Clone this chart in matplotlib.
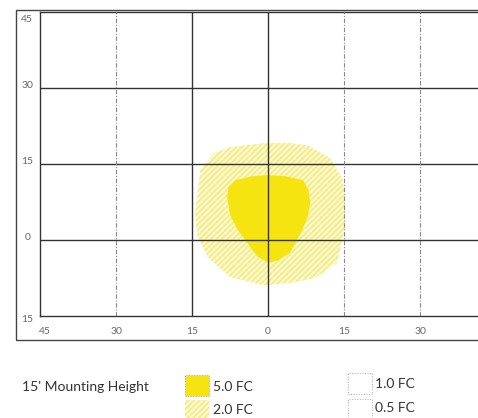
import matplotlib.pyplot as plt
import matplotlib.patches as mpatches

plt.rcParams['font.family'] = ['Lato', 'DejaVu Sans']
plt.rcParams['hatch.linewidth'] = 1.3

W, H = 478, 418

# axis ticks (feet)
x_ticks = [-45, -30, -15, 0, 15, 30]
x_labels = ["45", "30", "15", "0", "15", "30"]
y_ticks = [45, 30, 15, 0, -15]
y_labels = ["45", "30", "15", "0", "15"]

# 5.0 FC isoline (solid)
fc5_x = [-6.5, -3.0, 0.0, 3.5, 6.9, 8.0, 8.3, 7.8, 6.5, 4.3, 2.0, 0.0, -2.2, -4.1, -6.0, -7.5, -8.1, -7.8]
fc5_y = [11.8, 12.6, 12.8, 12.6, 11.8, 9.8, 7.3, 4.5, 1.5, -2.6, -4.0, -4.5, -3.2, -0.6, 2.0, 4.9, 8.5, 10.5]

# 2.0 FC isoline (hatched)
fc2_x = [-1.0, 3.5, 7.7, 12.2, 14.8, 15.2, 15.0, 13.6, 9.3, 4.3, -1.0, -7.5, -12.0, -14.0, -14.4, -13.4, -10.8, -7.5]
fc2_y = [19.1, 19.2, 18.7, 16.2, 11.8, 6.0, 2.0, -4.5, -7.5, -8.5, -8.9, -7.3, -3.3, 1.0, 5.3, 13.8, 17.1, 18.3]

HATCH_FACE = '#fcfad6'
HATCH_EDGE = '#f4ec80'

fig = plt.figure(figsize=(W / 100, H / 100), dpi=100)

def px(x, y):
    return x / W, 1 - y / H

# plot area: x=-45 at 40px, y=45 at 12px, y=-15 at 316px
ax = fig.add_axes([40 / W, (H - 316) / H, (W - 40) / W, (316 - 12) / H])
ax.set_xlim(-45, 41.4)
ax.set_ylim(-15, 45)

ax.fill(fc2_x, fc2_y, facecolor=HATCH_FACE, edgecolor=HATCH_EDGE, hatch='//////', lw=0, zorder=1)
ax.fill(fc5_x, fc5_y, color='#f6e410', lw=0, zorder=2)

# grid
for y in [30, 15, 0]:
    ax.axhline(y, color='#333333', lw=1.0, zorder=3)
for x in [-15, 0]:
    ax.axvline(x, color='#333333', lw=1.0, zorder=3)
for x in [-30, 15, 30]:
    ax.axvline(x, color='#888888', lw=0.8, ls=(0, (4, 1.5, 1, 1.5)), zorder=3)

for s in ax.spines.values():
    s.set_color('#333333')
    s.set_linewidth(1.0)
ax.spines['right'].set_visible(False)
ax.set_xticks([])
ax.set_yticks([])

# tick labels inside the outer frame
for v, lab in zip(x_ticks, x_labels):
    xx = v + (1.0 if v == -45 else 0)
    ax.text(xx, -18.0, lab, ha='center', va='center', fontsize=7.5, color='#666666', clip_on=False)
for v, lab in zip(y_ticks, y_labels):
    yy = v - 1.4 if v == 45 else (v + 0.4 if v != -15 else v - 0.6)
    ax.text(-47.5, yy, lab, ha='center', va='center', fontsize=7.5, color='#666666', clip_on=False)

# outer frame
x0, y0 = px(16, 340)
x1, y1 = px(490, 10)
fig.add_artist(mpatches.Rectangle((x0, y0), x1 - x0, y1 - y0, transform=fig.transFigure,
                                  fill=False, edgecolor='#444444', lw=1.0))

# legend
fig.text(*px(22, 387), "15' Mounting Height", fontsize=10, color='#333333', va='center')

def box(xl, yt, face, hatch=None, ls=':'):
    bx, by = px(xl, yt + 21)
    fig.add_artist(mpatches.Rectangle((bx, by), 24 / W, 21 / H, transform=fig.transFigure,
                                      facecolor=face, edgecolor='#aaaaaa', lw=0.7, ls=ls,
                                      hatch=hatch))

box(185, 375, '#f6e410')
fig.add_artist(mpatches.Rectangle(px(185, 420), 24 / W, 20 / H, transform=fig.transFigure,
                                  facecolor=HATCH_FACE, edgecolor=HATCH_EDGE, hatch='//////', lw=0))
box(348, 373, 'white')
box(348, 399, 'white')
fig.text(*px(213, 387), "5.0 FC", fontsize=10, color='#333333', va='center')
fig.text(*px(213, 410), "2.0 FC", fontsize=10, color='#333333', va='center')
fig.text(*px(375, 384), "1.0 FC", fontsize=10, color='#333333', va='center')
fig.text(*px(375, 408), "0.5 FC", fontsize=10, color='#333333', va='center')

fig.savefig('out.png', dpi=100)
